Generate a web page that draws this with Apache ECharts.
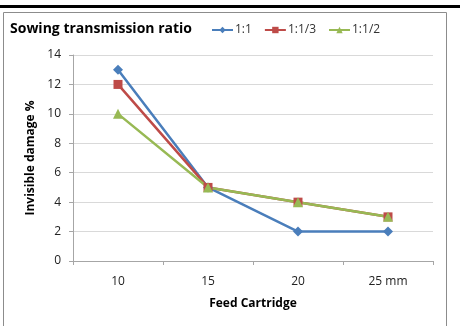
<!DOCTYPE html>
<html>
<head>
<meta charset="utf-8">
<script src="https://cdn.jsdelivr.net/npm/echarts@6/dist/echarts.min.js"></script>
<style>
  html, body { margin: 0; padding: 0; background: #fff; }
  #main { width: 460px; height: 326px; }
</style>
</head>
<body>
<div id="main"></div>
<script>
// 数据
var categories = ["10", "15", "20", "25 mm"];
var ratio11 = [13, 5, 2, 2];
var ratio113 = [12, 5, 4, 3];
var ratio112 = [10, 5, 4, 3];

var myChart = echarts.init(document.getElementById("main"));
var font = "'Open Sans', 'Noto Sans', sans-serif";

myChart.setOption({
  animation: false,
  textStyle: { fontFamily: font },
  title: {
    text: "Sowing transmission ratio",
    left: 10,
    top: 22,
    padding: 0,
    textStyle: { fontSize: 14, fontWeight: "bold", color: "#000", fontFamily: font }
  },
  legend: {
    left: 211,
    top: 24,
    padding: 0,
    itemGap: 12,
    itemWidth: 21,
    itemHeight: 8,
    textStyle: { fontSize: 12, color: "#333", fontFamily: font, padding: [0, 0, 0, -3] },
    data: ["1:1", "1:1/3", "1:1/2"]
  },
  grid: {
    left: 73,
    right: 27,
    top: 55,
    bottom: 65,
    containLabel: false
  },
  xAxis: {
    type: "category",
    data: categories,
    boundaryGap: true,
    name: "Feed Cartridge",
    nameLocation: "middle",
    nameGap: 37,
    nameTextStyle: { fontSize: 12, fontWeight: "bold", color: "#000", fontFamily: font },
    axisLine: { lineStyle: { color: "#a6a6a6" } },
    axisTick: { show: true, length: 4, alignWithLabel: false, lineStyle: { color: "#a6a6a6" } },
    axisLabel: { fontSize: 12, color: "#222", margin: 15, fontFamily: font }
  },
  yAxis: {
    type: "value",
    min: 0,
    max: 14,
    interval: 2,
    name: "Invisible damage %",
    nameLocation: "middle",
    nameGap: 36,
    nameTextStyle: { fontSize: 12, fontWeight: "bold", color: "#000", fontFamily: font },
    axisLine: { show: true, lineStyle: { color: "#a6a6a6" } },
    axisTick: { show: true, length: 4, lineStyle: { color: "#a6a6a6" } },
    axisLabel: { fontSize: 12, color: "#222", margin: 12, fontFamily: font },
    splitLine: { show: true, lineStyle: { color: "#d9d9d9" } }
  },
  series: [
    {
      name: "1:1",
      type: "line",
      data: ratio11,
      symbol: "diamond",
      symbolSize: 10,
      color: "#4a7ebb",
      lineStyle: { width: 2.5, color: "#4a7ebb" }
    },
    {
      name: "1:1/3",
      type: "line",
      data: ratio113,
      symbol: "rect",
      symbolSize: 9,
      color: "#be4b48",
      lineStyle: { width: 2.5, color: "#be4b48" }
    },
    {
      name: "1:1/2",
      type: "line",
      data: ratio112,
      symbol: "triangle",
      symbolSize: 10,
      color: "#98b954",
      lineStyle: { width: 2.5, color: "#98b954" }
    }
  ],
  graphic: [
    {
      type: "rect",
      shape: { x: 0, y: 5, width: 460, height: 3 },
      style: { fill: "#000" }
    },
    {
      type: "rect",
      shape: { x: 3.5, y: 12.5, width: 443, height: 330 },
      style: { fill: null, stroke: "#8c8c8c", lineWidth: 1 }
    }
  ]
});
</script>
</body>
</html>
